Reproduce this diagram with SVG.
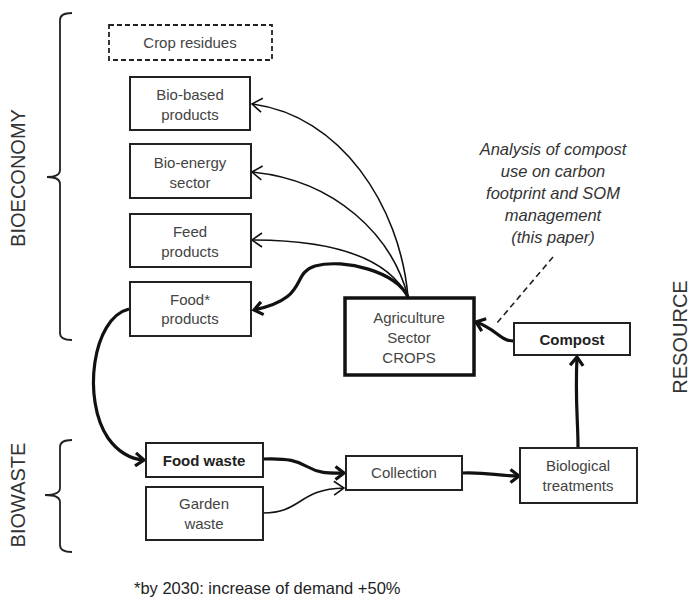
<svg xmlns="http://www.w3.org/2000/svg" width="691" height="600" viewBox="0 0 691 600">
<defs>
<style>
.box{fill:#fff;stroke:#222;stroke-width:2}
.thick{fill:#fff;stroke:#111;stroke-width:3.5}
.dash{fill:#fff;stroke:#222;stroke-width:1.8;stroke-dasharray:5,3}
.t{font-family:"Liberation Sans",Arial,sans-serif;font-size:15px;fill:#444;text-anchor:middle}
.b{font-family:"Liberation Sans",Arial,sans-serif;font-size:15px;fill:#222;font-weight:bold;text-anchor:middle}
.big{font-family:"Liberation Sans",Arial,sans-serif;font-size:20px;fill:#333;text-anchor:middle}
.ital{font-family:"Liberation Sans",Arial,sans-serif;font-size:16.5px;fill:#333;font-style:italic;text-anchor:middle}
.foot{font-family:"Liberation Sans",Arial,sans-serif;font-size:16.5px;fill:#222}
.c1{fill:none;stroke:#111;stroke-width:1.6}
.c2{fill:none;stroke:#111;stroke-width:3.2}
.br{fill:none;stroke:#222;stroke-width:1.8}
</style>
<marker id="a1" viewBox="0 0 12 16" refX="11" refY="8" markerWidth="12" markerHeight="16" markerUnits="userSpaceOnUse" orient="auto">
<path d="M1,1 L11,8 L1,15" fill="none" stroke="#111" stroke-width="1.6"/>
</marker>
<marker id="a2" viewBox="0 0 12 16" refX="10" refY="8" markerWidth="12" markerHeight="16" markerUnits="userSpaceOnUse" orient="auto">
<path d="M1.5,1.5 L10,8 L1.5,14.5" fill="none" stroke="#111" stroke-width="3.2"/>
</marker>
</defs>
<rect width="691" height="600" fill="#fff"/>

<g id="brackets">
<path class="br" d="M72,13 Q60,13 60,20 L60,170 Q60,177 47,177 Q60,177 60,184 L60,333 Q60,340 72,340"/>
<path class="br" d="M72,440 Q60,440 60,447 L60,488 Q60,495 45,495 Q60,495 60,502 L60,545 Q60,552 72,552"/>
<text class="big" transform="translate(25,178) rotate(-90)">BIOECONOMY</text>
<text class="big" transform="translate(25,495) rotate(-90)">BIOWASTE</text>
<text class="big" transform="translate(687,337) rotate(-90)">RESOURCE</text>
</g>

<g id="connectors">
<path class="c1" d="M408,297 C400,205 340,115 252,104" marker-end="url(#a1)"/>
<path class="c1" d="M408,297 C392,235 335,180 252,172" marker-end="url(#a1)"/>
<path class="c1" d="M408,297 C388,258 335,240 252,240" marker-end="url(#a1)"/>
<path class="c2" d="M408,297 C396,272 345,258 315,266 C290,274 310,298 254,310" marker-end="url(#a2)"/>
<path class="c2" d="M129,309 C92,318 82,400 108,438 C118,452 130,459 144,460" marker-end="url(#a2)"/>
<path class="c2" d="M263,459 C288,458 298,461 308,467 C320,474 330,473 344,473" marker-end="url(#a2)"/>
<path class="c1" d="M263,513 C302,513 298,489 344,488" marker-end="url(#a1)"/>
<path class="c2" d="M462,473 C490,472 495,476 519,476" marker-end="url(#a2)"/>
<path class="c2" d="M578,447 C578,420 575,400 577,357" marker-end="url(#a2)"/>
<path class="c2" d="M514,341 C500,341 498,330 476,322" marker-end="url(#a2)"/>
<path d="M553,257 L497,323" fill="none" stroke="#222" stroke-width="1.6" stroke-dasharray="6,4"/>
</g>

<g id="crop-residues">
<rect class="dash" x="109" y="25" width="163" height="35"/>
<text class="t" x="190" y="48">Crop residues</text>
</g>
<g id="bio-based">
<rect class="box" x="130" y="77" width="120" height="53"/>
<text class="t" x="190" y="100">Bio-based</text>
<text class="t" x="190" y="120">products</text>
</g>
<g id="bio-energy">
<rect class="box" x="130" y="144" width="121" height="54"/>
<text class="t" x="190" y="168">Bio-energy</text>
<text class="t" x="190" y="188">sector</text>
</g>
<g id="feed">
<rect class="box" x="130" y="214" width="121" height="53"/>
<text class="t" x="190" y="237">Feed</text>
<text class="t" x="190" y="257">products</text>
</g>
<g id="food-products">
<rect class="box" x="130" y="282" width="121" height="54"/>
<text class="t" x="190" y="305">Food*</text>
<text class="t" x="190" y="324">products</text>
</g>
<g id="agriculture">
<rect class="thick" x="345" y="298" width="129" height="77"/>
<text class="t" x="409" y="323">Agriculture</text>
<text class="t" x="409" y="343">Sector</text>
<text class="t" x="409" y="363">CROPS</text>
</g>
<g id="compost">
<rect class="box" x="514" y="323" width="116" height="32"/>
<text class="b" x="572" y="345">Compost</text>
</g>
<g id="annotation">
<text class="ital" x="553" y="155">Analysis of compost</text>
<text class="ital" x="553" y="177">use  on carbon</text>
<text class="ital" x="553" y="199">footprint  and SOM</text>
<text class="ital" x="553" y="221">management</text>
<text class="ital" x="553" y="243">(this paper)</text>
</g>
<g id="food-waste">
<rect class="box" x="146" y="443" width="117" height="34"/>
<text class="b" x="204" y="466">Food waste</text>
</g>
<g id="garden-waste">
<rect class="box" x="146" y="487" width="117" height="53"/>
<text class="t" x="204" y="509">Garden</text>
<text class="t" x="204" y="529">waste</text>
</g>
<g id="collection">
<rect class="box" x="346" y="456" width="116" height="34"/>
<text class="t" x="404" y="478">Collection</text>
</g>
<g id="biological">
<rect class="box" x="520" y="448" width="117" height="55"/>
<text class="t" x="578" y="471">Biological</text>
<text class="t" x="578" y="491">treatments</text>
</g>
<g id="footnote">
<text class="foot" x="134" y="594">*by 2030: increase of demand +50%</text>
</g>
</svg>
